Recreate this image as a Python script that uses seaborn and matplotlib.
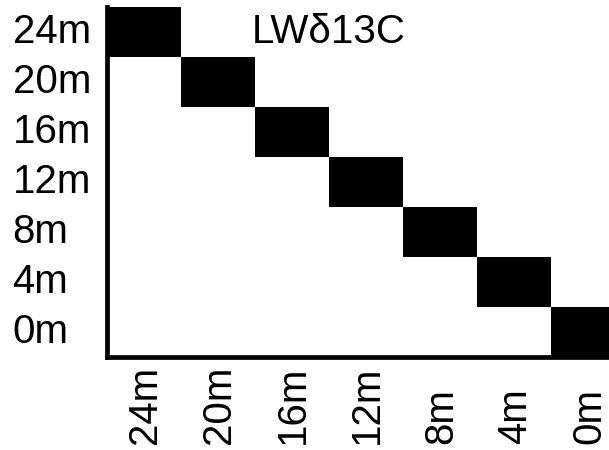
import numpy as np
import pandas as pd
import matplotlib
matplotlib.use("Agg")
import matplotlib.pyplot as plt
import matplotlib.transforms as mtransforms
from matplotlib.colors import ListedColormap
import seaborn as sns

depths = ["24m", "20m", "16m", "12m", "8m", "4m", "0m"]
diag_values = [1, 1, 1, 1, 1, 1, 1]
title = "LWδ13C"

matrix = pd.DataFrame(np.diag(diag_values), index=depths, columns=depths)

sns.set_theme(style="white")
plt.rcParams["font.family"] = ["Liberation Sans", "DejaVu Sans"]

fig = plt.figure(figsize=(6.09, 4.5), dpi=100)
ax = fig.add_axes([107 / 609, 93 / 450, 518 / 609, 350 / 450])

sns.heatmap(matrix, ax=ax, cmap=ListedColormap(["white", "black"]),
            cbar=False, vmin=0, vmax=1, square=False)

fs = 29
ax.set_xticks(np.arange(len(depths)) + 0.5)
ax.set_yticks(np.arange(len(depths)) + 0.5)
ax.set_xticklabels(depths, rotation=90, fontsize=fs, color="black", va="bottom")
ax.set_yticklabels(depths, rotation=0, fontsize=fs, color="black", ha="left")
ax.tick_params(axis="x", length=0, pad=63)
ax.tick_params(axis="y", length=0, pad=68)
ax.set_xlabel("")
ax.set_ylabel("")

# small rightward nudge for the rotated column labels
shift = mtransforms.ScaledTranslation(1 / 100, 0, fig.dpi_scale_trans)
for lbl in ax.get_xticklabels():
    lbl.set_transform(lbl.get_transform() + shift)

for side in ["left", "bottom"]:
    ax.spines[side].set_visible(True)
    ax.spines[side].set_color("black")
    ax.spines[side].set_linewidth(3.4)
for side in ["top", "right"]:
    ax.spines[side].set_visible(False)

ax.text(3.0, 0.5, title, ha="center", va="center", fontsize=fs, color="black")

fig.savefig("out.png", dpi=100)
